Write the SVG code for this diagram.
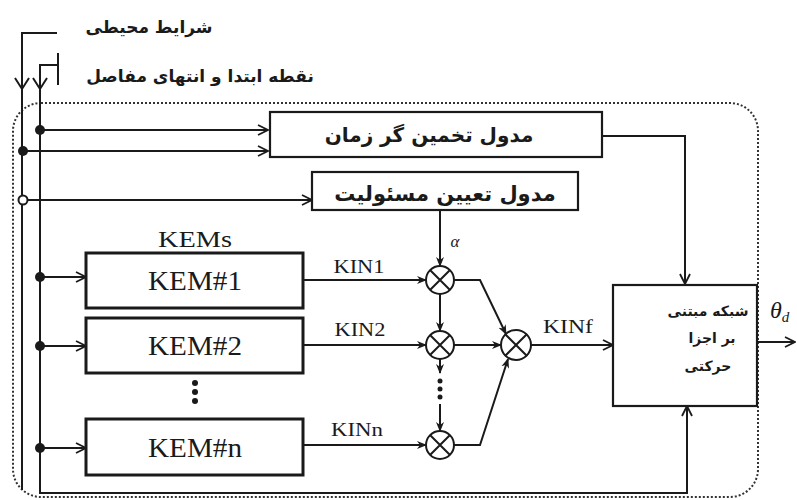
<svg xmlns="http://www.w3.org/2000/svg" width="797" height="500" viewBox="0 0 797 500">
<style>
.ln{fill:none;stroke:#1a1a1a;stroke-width:2}
.box{fill:#fff;stroke:#1a1a1a;stroke-width:2.2}
.kbox{fill:#fff;stroke:#1a1a1a;stroke-width:3}
.fa{font-family:"DejaVu Sans","Noto Sans",sans-serif;font-weight:bold;fill:#1a1a1a}
.se{font-family:"Liberation Serif","Times New Roman",serif;fill:#1a1a1a}
.dot{fill:#1a1a1a}
</style>
<defs>
<marker id="arr" viewBox="0 0 12 12" refX="11" refY="6" markerWidth="12" markerHeight="12" markerUnits="userSpaceOnUse" orient="auto"><path d="M1,1 L11,6 L1,11" fill="none" stroke="#1a1a1a" stroke-width="1.8"/></marker>
<marker id="arf" viewBox="0 0 10 10" refX="9" refY="5" markerWidth="10" markerHeight="10" markerUnits="userSpaceOnUse" orient="auto"><path d="M0,1 L10,5 L0,9 L3,5 Z" fill="#1a1a1a"/></marker>
</defs>
<rect x="13" y="103" width="745" height="394" rx="28" fill="none" stroke="#333" stroke-width="2" stroke-dasharray="2,2"/>
<g id="connectors">
<path class="ln" d="M57,33 H22 V490"/>
<path class="ln" d="M15,78 L22,89 L29,78"/>
<path class="ln" d="M57,65 H40 V493 H687 V406" marker-end="url(#arr)"/>
<path class="ln" d="M58,53 V85"/>
<path class="ln" d="M33,78 L40,89 L47,78"/>
<path class="ln" d="M40,130 H268" marker-end="url(#arr)"/>
<path class="ln" d="M23,151 H268" marker-end="url(#arr)"/>
<path class="ln" d="M23,200 H312" marker-end="url(#arr)"/>
<path class="ln" d="M40,277 H86" marker-end="url(#arr)"/>
<path class="ln" d="M40,346 H86" marker-end="url(#arr)"/>
<path class="ln" d="M40,448 H86" marker-end="url(#arr)"/>
<path class="ln" d="M303,280 H426" marker-end="url(#arf)"/>
<path class="ln" d="M303,345 H426" marker-end="url(#arf)"/>
<path class="ln" d="M303,445 H426" marker-end="url(#arf)"/>
<path class="ln" d="M440,210 V266" marker-end="url(#arf)"/>
<path class="ln" d="M440,294 V331" marker-end="url(#arf)"/>
<path class="ln" d="M440,359 V373" marker-end="url(#arf)"/>
<path class="ln" d="M440,404 V431" marker-end="url(#arf)"/>
<path class="ln" d="M454,280 H480 L506,334" marker-end="url(#arf)"/>
<path class="ln" d="M454,345 H501" marker-end="url(#arf)"/>
<path class="ln" d="M454,445 H480 L508,359" marker-end="url(#arf)"/>
<path class="ln" d="M531,345 H613" marker-end="url(#arr)"/>
<path class="ln" d="M602,136 H685 V284" marker-end="url(#arr)"/>
<path class="ln" d="M757,342 H795" marker-end="url(#arr)"/>
<circle class="dot" cx="40" cy="130" r="5"/>
<circle class="dot" cx="23" cy="151" r="5"/>
<circle cx="23" cy="200" r="4.5" fill="#fff" stroke="#1a1a1a" stroke-width="2"/>
<circle class="dot" cx="40" cy="277" r="5"/>
<circle class="dot" cx="40" cy="346" r="5"/>
<circle class="dot" cx="40" cy="448" r="5"/>
<circle class="dot" cx="440" cy="381" r="2.5"/>
<circle class="dot" cx="440" cy="389" r="2.5"/>
<circle class="dot" cx="440" cy="397" r="2.5"/>
</g>
<g id="lbl-env"><text class="fa" x="149" y="33" font-size="17" text-anchor="middle" direction="rtl">شرایط محیطی</text></g>
<g id="lbl-joints"><text class="fa" x="200" y="82" font-size="17" text-anchor="middle" direction="rtl">نقطه ابتدا و انتهای مفاصل</text></g>
<g id="time-module"><rect class="box" x="270" y="112" width="332" height="45"/><text class="fa" x="429" y="142" font-size="20" text-anchor="middle" direction="rtl">مدول تخمین گر زمان</text></g>
<g id="resp-module"><rect class="box" x="312" y="172" width="266" height="38"/><text class="fa" x="445" y="201" font-size="21" text-anchor="middle" direction="rtl">مدول تعیین مسئولیت</text></g>
<g id="kems-label"><text class="se" x="195" y="247" font-size="23" text-anchor="middle" textLength="74" lengthAdjust="spacingAndGlyphs">KEMs</text></g>
<g id="kem1"><rect class="kbox" x="86" y="253" width="217" height="55"/><text class="se" x="195" y="290" font-size="27" text-anchor="middle" textLength="94" lengthAdjust="spacingAndGlyphs">KEM#1</text></g>
<g id="kem2"><rect class="kbox" x="86" y="318" width="217" height="55"/><text class="se" x="195" y="355" font-size="27" text-anchor="middle" textLength="94" lengthAdjust="spacingAndGlyphs">KEM#2</text></g>
<g id="kem-dots"><circle class="dot" cx="195" cy="383" r="3"/><circle class="dot" cx="195" cy="392" r="3"/><circle class="dot" cx="195" cy="401" r="3"/></g>
<g id="kemn"><rect class="kbox" x="86" y="419" width="217" height="56"/><text class="se" x="195" y="457" font-size="27" text-anchor="middle" textLength="94" lengthAdjust="spacingAndGlyphs">KEM#n</text></g>
<g id="kin-labels">
<text class="se" x="359" y="273" font-size="19" text-anchor="middle" textLength="51" lengthAdjust="spacingAndGlyphs">KIN1</text>
<text class="se" x="360" y="336" font-size="19" text-anchor="middle" textLength="51" lengthAdjust="spacingAndGlyphs">KIN2</text>
<text class="se" x="357" y="436" font-size="19" text-anchor="middle" textLength="52" lengthAdjust="spacingAndGlyphs">KINn</text>
<text class="se" x="568" y="333" font-size="19" text-anchor="middle" textLength="50" lengthAdjust="spacingAndGlyphs">KINf</text>
<text class="se" x="455" y="247" font-size="17" font-style="italic" text-anchor="middle">α</text>
</g>
<g id="mul1"><circle cx="440" cy="280" r="14" fill="#fff" stroke="#1a1a1a" stroke-width="2"/><path class="ln" d="M430,270 L450,290 M450,270 L430,290"/></g>
<g id="mul2"><circle cx="440" cy="345" r="14" fill="#fff" stroke="#1a1a1a" stroke-width="2"/><path class="ln" d="M430,335 L450,355 M450,335 L430,355"/></g>
<g id="mul3"><circle cx="440" cy="445" r="14" fill="#fff" stroke="#1a1a1a" stroke-width="2"/><path class="ln" d="M430,435 L450,455 M450,435 L430,455"/></g>
<g id="mulf"><circle cx="516" cy="345" r="15" fill="#fff" stroke="#1a1a1a" stroke-width="2"/><path class="ln" d="M505,334 L527,356 M527,334 L505,356"/></g>
<g id="network"><rect class="box" x="613" y="285" width="144" height="121"/>
<text class="fa" x="708" y="316" font-size="14" text-anchor="middle" direction="rtl">شبکه مبتنی</text>
<text class="fa" x="712" y="343" font-size="14" text-anchor="middle" direction="rtl">بر اجزا</text>
<text class="fa" x="708" y="371" font-size="14" text-anchor="middle" direction="rtl">حرکتی</text>
</g>
<g id="output"><text class="se" x="770" y="318" font-size="24" font-style="italic">θ<tspan font-size="15" dy="4">d</tspan></text></g>
</svg>
